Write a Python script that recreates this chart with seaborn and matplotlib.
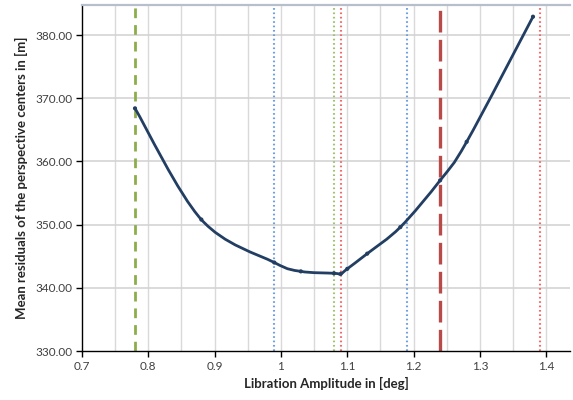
import numpy as np
import pandas as pd
import matplotlib
matplotlib.use("Agg")
import matplotlib.pyplot as plt
import seaborn as sns
from matplotlib.path import Path
from matplotlib.patches import PathPatch
from matplotlib.ticker import FuncFormatter

# Data
amplitude = [0.78, 0.88, 0.99, 1.03, 1.08, 1.09, 1.10, 1.13, 1.18, 1.24, 1.28, 1.38]
residuals = [368.4, 350.8, 344.0, 342.6, 342.3, 342.2, 343.0, 345.4, 349.6, 357.0, 363.1, 382.9]

ref_x = [0.78, 0.99, 1.08, 1.09, 1.19, 1.24, 1.39]
ref_kind = ["green_dash", "blue_dot", "green_dot", "red_dot", "blue_dot", "red_dash", "red_dot"]

x_ticks = [0.7, 0.8, 0.9, 1.0, 1.1, 1.2, 1.3, 1.4]
y_ticks = [330, 340, 350, 360, 370, 380]

sns.set_style("white")
plt.rcParams["font.family"] = ["Lato", "DejaVu Sans"]

fig = plt.figure(figsize=(5.73, 4.0), dpi=100)
ax = fig.add_axes([0.143, 0.1225, 0.852, 0.865])

ax.set_xlim(0.7, 1.436)
ax.set_ylim(330, 384.75)

# grid
for gx in np.arange(0.75, 1.401, 0.05):
    ax.axvline(gx, color="#d9d9d9", lw=1.0, zorder=0)
for gy in y_ticks[1:]:
    ax.axhline(gy, color="#d4d4d4", lw=1.2, zorder=0)

styles = {
    "green_dash": dict(color="#8cae4a", lw=2.0, dashes=(3.5, 2.5)),
    "red_dash": dict(color="#b84a48", lw=2.4, dashes=(6.5, 2.2)),
    "blue_dot": dict(color="#6f9fe0", lw=1.5, dashes=(0.8, 1.3)),
    "green_dot": dict(color="#a3c172", lw=1.5, dashes=(0.8, 1.3)),
    "red_dot": dict(color="#f06a6a", lw=1.5, dashes=(0.8, 1.3)),
}
for xv, k in zip(ref_x, ref_kind):
    st = styles[k]
    ax.axvline(xv, color=st["color"], lw=st["lw"], dashes=st["dashes"], zorder=2)

# smooth curve (Catmull-Rom as cubic Bezier)
df = pd.DataFrame({"amp": amplitude, "res": residuals})
P = df[["amp", "res"]].to_numpy()
n = len(P)
verts = [tuple(P[0])]
codes = [Path.MOVETO]
for i in range(n - 1):
    p0 = P[i - 1] if i > 0 else P[i]
    p1 = P[i]
    p2 = P[i + 1]
    p3 = P[i + 2] if i + 2 < n else P[i + 1]
    c1 = p1 + (p2 - p0) / 6.0
    c2 = p2 - (p3 - p1) / 6.0
    verts += [tuple(c1), tuple(c2), tuple(p2)]
    codes += [Path.CURVE4] * 3
patch = PathPatch(Path(verts, codes), facecolor="none", edgecolor="#233e63",
                  lw=2.0, zorder=4, capstyle="round", joinstyle="round")
ax.add_patch(patch)
sns.scatterplot(data=df, x="amp", y="res", ax=ax, color="#233e63", s=9,
                edgecolor="none", zorder=5, legend=False)

# spines
ax.spines["right"].set_visible(False)
ax.spines["top"].set_color("#b8bfcc")
ax.spines["top"].set_linewidth(1.6)
ax.spines["left"].set_color("#000000")
ax.spines["bottom"].set_color("#000000")
ax.spines["left"].set_linewidth(1.0)
ax.spines["bottom"].set_linewidth(1.0)

ax.set_xticks(x_ticks)
ax.set_yticks(y_ticks)
ax.xaxis.set_major_formatter(FuncFormatter(lambda v, p: f"{v:g}"))
ax.yaxis.set_major_formatter(FuncFormatter(lambda v, p: f"{v:.2f}"))
ax.tick_params(axis="both", direction="out", length=4, width=1, color="#000000",
               labelsize=8.5, labelcolor="#404040", pad=3,
               bottom=True, left=True)

ax.set_xlabel("Libration Amplitude in [deg]", fontsize=9.5, fontweight="bold",
              color="#262626", labelpad=4)
ax.set_ylabel("Mean residuals of the perspective centers in [m]", fontsize=9.5,
              fontweight="bold", color="#262626", labelpad=5)

fig.savefig("out.png", dpi=100)
